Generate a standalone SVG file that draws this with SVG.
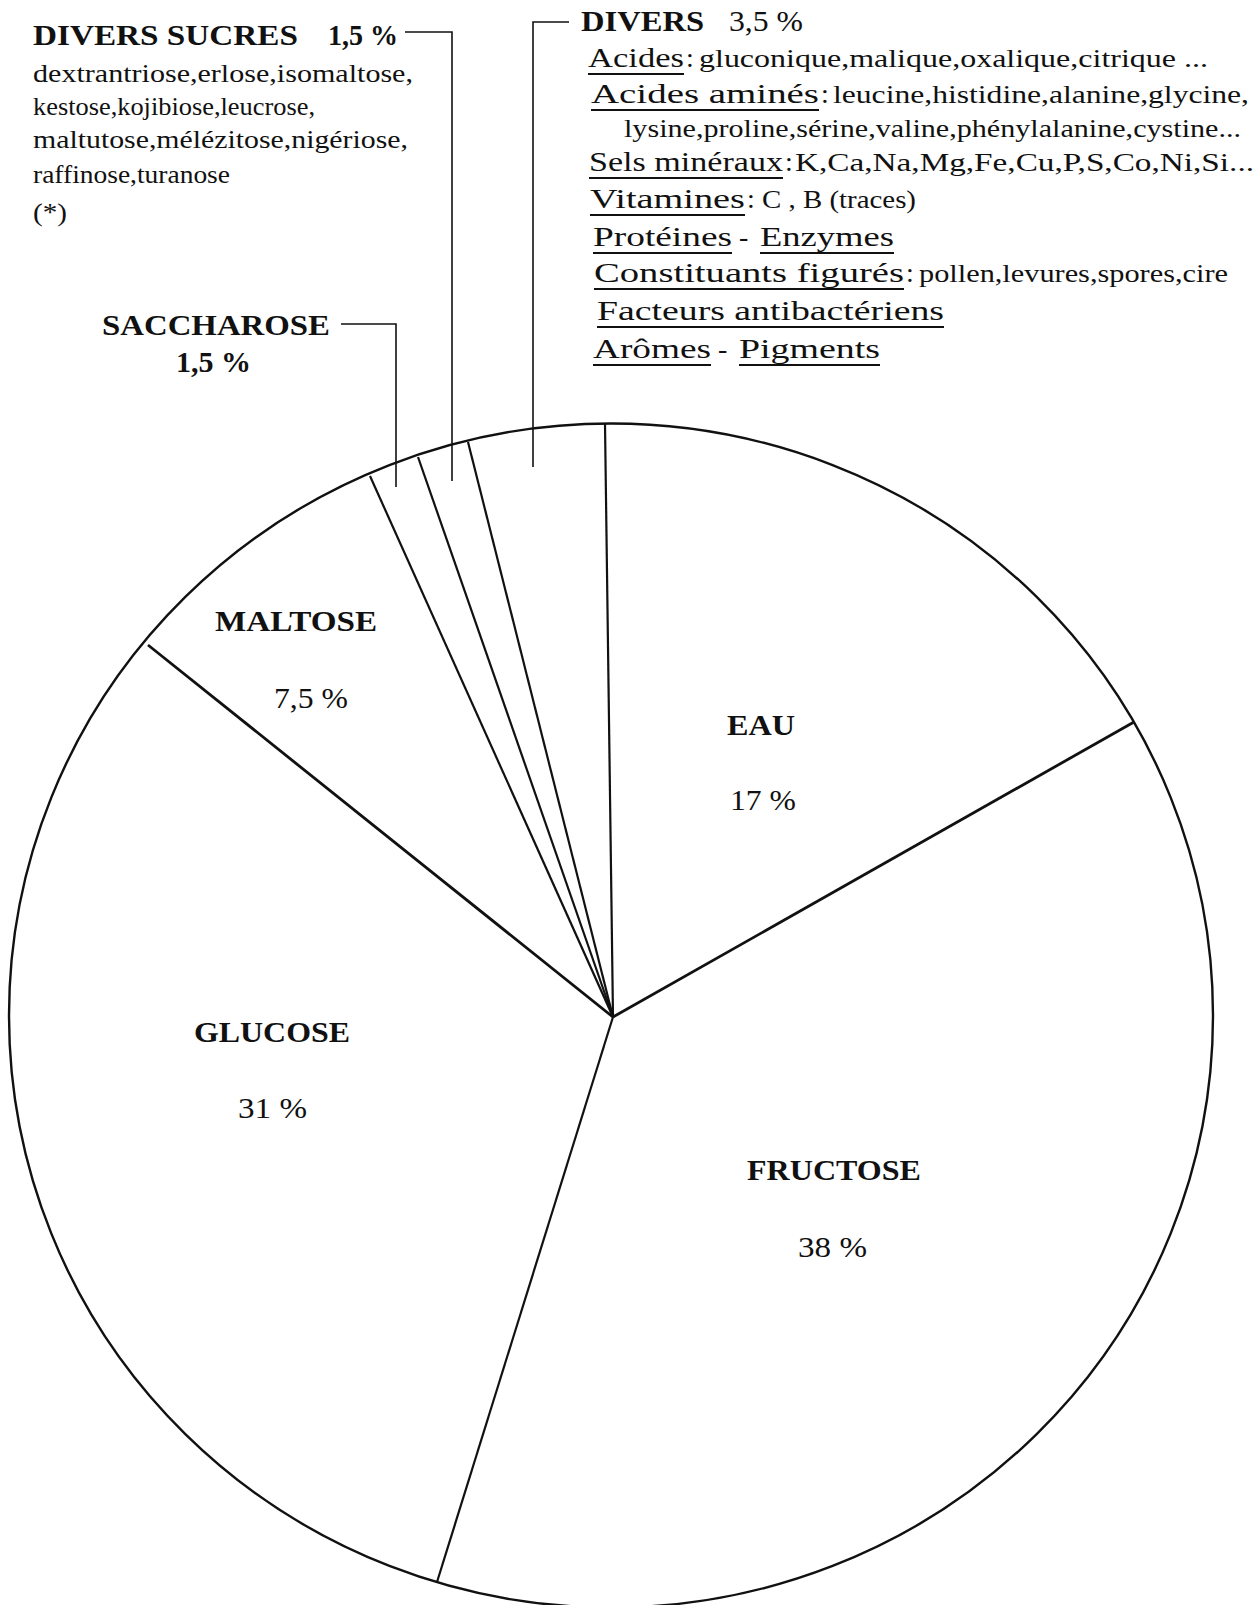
<svg xmlns="http://www.w3.org/2000/svg" width="1257" height="1605" viewBox="0 0 1257 1605">
<style>
text{font-family:"Liberation Serif","Times New Roman",serif;fill:#111}
.h{font-size:30px;font-weight:bold}
.hn{font-size:30px}
.p{font-size:30px}
.b{font-size:26px}
.u{font-size:28px}
.s{font-size:25px}
.m{font-size:26px}
.ul{stroke:#111;stroke-width:2}
.edge{fill:none;stroke:#111;stroke-width:2.4}
.rad{stroke:#111;stroke-width:2.2}
.thick{stroke:#111;stroke-width:2.8}
.lead{fill:none;stroke:#111;stroke-width:1.6}
</style>
<rect width="1257" height="1605" fill="#fff"/>

<g id="pie">
<ellipse cx="611" cy="1015.5" rx="602" ry="592" class="edge"/>
<line class="rad" x1="613" y1="1017" x2="605" y2="424"/>
<line class="rad" x1="613" y1="1017" x2="468" y2="442"/>
<line class="rad" x1="613" y1="1017" x2="418" y2="457"/>
<line class="rad" x1="613" y1="1017" x2="370" y2="476"/>
<line class="thick" x1="613" y1="1017" x2="148" y2="645"/>
<line class="thick" x1="613" y1="1017" x2="1134" y2="722"/>
<line class="rad" x1="613" y1="1017" x2="437" y2="1582"/>
</g>

<g id="connectors">
<polyline class="lead" points="341,324 396,324 396,487"/>
<polyline class="lead" points="405,32 452,32 452,481"/>
<polyline class="lead" points="569,22 533,22 533,467"/>
</g>

<g id="divers-sucres">
<text class="h" x="33" y="45" textLength="265" lengthAdjust="spacingAndGlyphs">DIVERS SUCRES</text>
<text class="h" x="328" y="45" font-size="28" textLength="70" lengthAdjust="spacingAndGlyphs">1,5 %</text>
<text class="b" x="33" y="82" textLength="380" lengthAdjust="spacingAndGlyphs">dextrantriose,erlose,isomaltose,</text>
<text class="b" x="33" y="115" textLength="282" lengthAdjust="spacingAndGlyphs">kestose,kojibiose,leucrose,</text>
<text class="b" x="33" y="148" textLength="375" lengthAdjust="spacingAndGlyphs">maltutose,mélézitose,nigériose,</text>
<text class="b" x="33" y="183" textLength="197" lengthAdjust="spacingAndGlyphs">raffinose,turanose</text>
<text class="b" x="33" y="221" textLength="34" lengthAdjust="spacingAndGlyphs">(*)</text>
</g>

<g id="saccharose">
<text class="h" x="102" y="335" textLength="228" lengthAdjust="spacingAndGlyphs">SACCHAROSE</text>
<text class="h" x="176" y="372" textLength="75" lengthAdjust="spacingAndGlyphs">1,5 %</text>
</g>

<g id="divers">
<text class="h" x="581" y="31" textLength="123" lengthAdjust="spacingAndGlyphs">DIVERS</text>
<text class="hn" x="729" y="31" textLength="74" lengthAdjust="spacingAndGlyphs">3,5 %</text>

<text class="u" x="588" y="67" textLength="96" lengthAdjust="spacingAndGlyphs">Acides</text>
<text class="u" x="686" y="67">:</text>
<text class="s" x="699" y="67" textLength="509" lengthAdjust="spacingAndGlyphs">gluconique,malique,oxalique,citrique ...</text>

<text class="u" x="591" y="103" textLength="228" lengthAdjust="spacingAndGlyphs">Acides  aminés</text>
<text class="u" x="821" y="103">:</text>
<text class="s" x="833" y="103" textLength="416" lengthAdjust="spacingAndGlyphs">leucine,histidine,alanine,glycine,</text>

<text class="s" x="624" y="137" textLength="617" lengthAdjust="spacingAndGlyphs">lysine,proline,sérine,valine,phénylalanine,cystine...</text>

<text class="u" x="589" y="171" textLength="194" lengthAdjust="spacingAndGlyphs">Sels  minéraux</text>
<text class="u" x="785" y="171">:</text>
<text class="m" x="795" y="171" textLength="459" lengthAdjust="spacingAndGlyphs">K,Ca,Na,Mg,Fe,Cu,P,S,Co,Ni,Si...</text>

<text class="u" x="590" y="208" textLength="155" lengthAdjust="spacingAndGlyphs">Vitamines</text>
<text class="u" x="747" y="208">:</text>
<text class="s" x="762" y="208" textLength="154" lengthAdjust="spacingAndGlyphs">C , B (traces)</text>

<text class="u" x="593" y="246" textLength="139" lengthAdjust="spacingAndGlyphs">Protéines</text>
<text class="u" x="739" y="246">-</text>
<text class="u" x="760" y="246" textLength="134" lengthAdjust="spacingAndGlyphs">Enzymes</text>

<text class="u" x="594" y="282" textLength="310" lengthAdjust="spacingAndGlyphs">Constituants  figurés</text>
<text class="u" x="906" y="282">:</text>
<text class="s" x="919" y="282" textLength="309" lengthAdjust="spacingAndGlyphs">pollen,levures,spores,cire</text>

<text class="u" x="597" y="320" textLength="347" lengthAdjust="spacingAndGlyphs">Facteurs  antibactériens</text>

<text class="u" x="593" y="358" textLength="118" lengthAdjust="spacingAndGlyphs">Arômes</text>
<text class="u" x="718" y="358">-</text>
<text class="u" x="739" y="358" textLength="141" lengthAdjust="spacingAndGlyphs">Pigments</text>

<g class="ul">
<line x1="588" y1="74" x2="684" y2="74"/>
<line x1="591" y1="110" x2="819" y2="110"/>
<line x1="589" y1="178" x2="783" y2="178"/>
<line x1="590" y1="215" x2="745" y2="215"/>
<line x1="593" y1="253" x2="732" y2="253"/>
<line x1="760" y1="253" x2="894" y2="253"/>
<line x1="594" y1="289" x2="904" y2="289"/>
<line x1="597" y1="327" x2="944" y2="327"/>
<line x1="593" y1="365" x2="711" y2="365"/>
<line x1="739" y1="365" x2="880" y2="365"/>
</g>
</g>

<g id="maltose">
<text class="h" x="215" y="631" textLength="162" lengthAdjust="spacingAndGlyphs">MALTOSE</text>
<text class="p" x="274" y="708" textLength="74" lengthAdjust="spacingAndGlyphs">7,5 %</text>
</g>
<g id="eau">
<text class="h" x="727" y="735" textLength="68" lengthAdjust="spacingAndGlyphs">EAU</text>
<text class="p" x="730" y="810" textLength="66" lengthAdjust="spacingAndGlyphs">17 %</text>
</g>
<g id="glucose">
<text class="h" x="194" y="1042" textLength="156" lengthAdjust="spacingAndGlyphs">GLUCOSE</text>
<text class="p" x="238" y="1118" textLength="69" lengthAdjust="spacingAndGlyphs">31 %</text>
</g>
<g id="fructose">
<text class="h" x="747" y="1180" textLength="174" lengthAdjust="spacingAndGlyphs">FRUCTOSE</text>
<text class="p" x="798" y="1257" textLength="69" lengthAdjust="spacingAndGlyphs">38 %</text>
</g>
</svg>
